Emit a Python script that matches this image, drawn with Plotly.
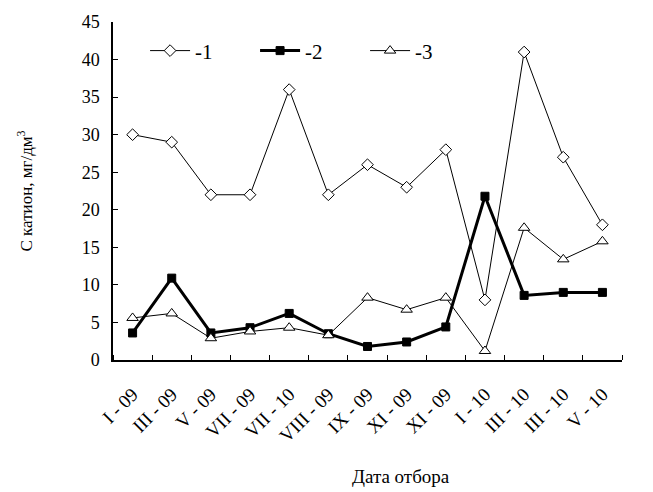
import plotly.graph_objects as go

categories = ["I - 09", "III - 09", "V - 09", "VII - 09", "VII - 10", "VIII - 09", "IX - 09",
              "XI - 09", "XI - 09", "I - 10", "III - 10", "III - 10", "V - 10"]
series1 = [30, 29, 22, 22, 36, 22, 26, 23, 28, 8, 41, 27, 18]
series2 = [3.6, 10.9, 3.6, 4.3, 6.2, 3.5, 1.8, 2.4, 4.4, 21.8, 8.6, 9.0, 9.0]
series3 = [5.6, 6.2, 2.9, 3.8, 4.3, 3.3, 8.3, 6.7, 8.3, 1.2, 17.6, 13.4, 15.8]
names = ["-1", "-2", "-3"]
yticks = [0, 5, 10, 15, 20, 25, 30, 35, 40, 45]

xs = list(range(len(categories)))
FONT = "Liberation Serif, Times New Roman, serif"

fig = go.Figure()
fig.add_trace(go.Scatter(x=xs, y=series1, name=names[0], mode="lines+markers",
                         line=dict(color="black", width=1),
                         marker=dict(symbol="diamond", size=9, color="white",
                                     line=dict(color="black", width=1))))
fig.add_trace(go.Scatter(x=xs, y=series2, name=names[1], mode="lines+markers",
                         line=dict(color="black", width=3),
                         marker=dict(symbol="square", size=8, color="black",
                                     line=dict(color="black", width=1))))
fig.add_trace(go.Scatter(x=xs, y=series3, name=names[2], mode="lines+markers",
                         line=dict(color="black", width=1),
                         marker=dict(symbol="triangle-up", size=10, color="white",
                                     line=dict(color="black", width=1))))

fig.update_layout(
    width=653, height=492,
    margin=dict(l=113, r=31, t=17, b=132),
    plot_bgcolor="white", paper_bgcolor="white",
    font=dict(family=FONT, color="black", size=18),
    showlegend=True,
    legend=dict(orientation="h", x=0.063, y=0.975, xanchor="left", yanchor="top",
                font=dict(size=21, family=FONT), bgcolor="rgba(0,0,0,0)",
                itemwidth=40, entrywidth=55, entrywidthmode="pixels", tracegroupgap=0),
    xaxis=dict(range=[-0.5, 12.5], tickmode="array", tickvals=xs, ticktext=categories,
               tickangle=-45, ticks="", showline=True, linecolor="black", linewidth=1.5,
               showgrid=False, zeroline=False, tickfont=dict(size=19, family=FONT),
               ticklabelstandoff=14,
               minor=dict(ticks="inside", tick0=0.5, dtick=1, ticklen=5,
                          tickcolor="black", showgrid=False)),
    yaxis=dict(range=[0, 45], tickmode="array", tickvals=yticks, ticks="inside",
               ticklen=5, tickcolor="black", showline=True, linecolor="black",
               linewidth=1.5, showgrid=False, zeroline=False,
               tickfont=dict(size=18, family=FONT), ticklabelstandoff=8,
               title=dict(text="С катион, мг/дм<sup>3</sup>", font=dict(size=17, family=FONT),
                          standoff=45)),
    annotations=[dict(text="Дата отбора", xref="paper", yref="paper",
                      x=0.566, y=-0.344, xanchor="center", yanchor="middle",
                      showarrow=False, font=dict(size=19, family=FONT))],
)

fig.write_html("out.html")
